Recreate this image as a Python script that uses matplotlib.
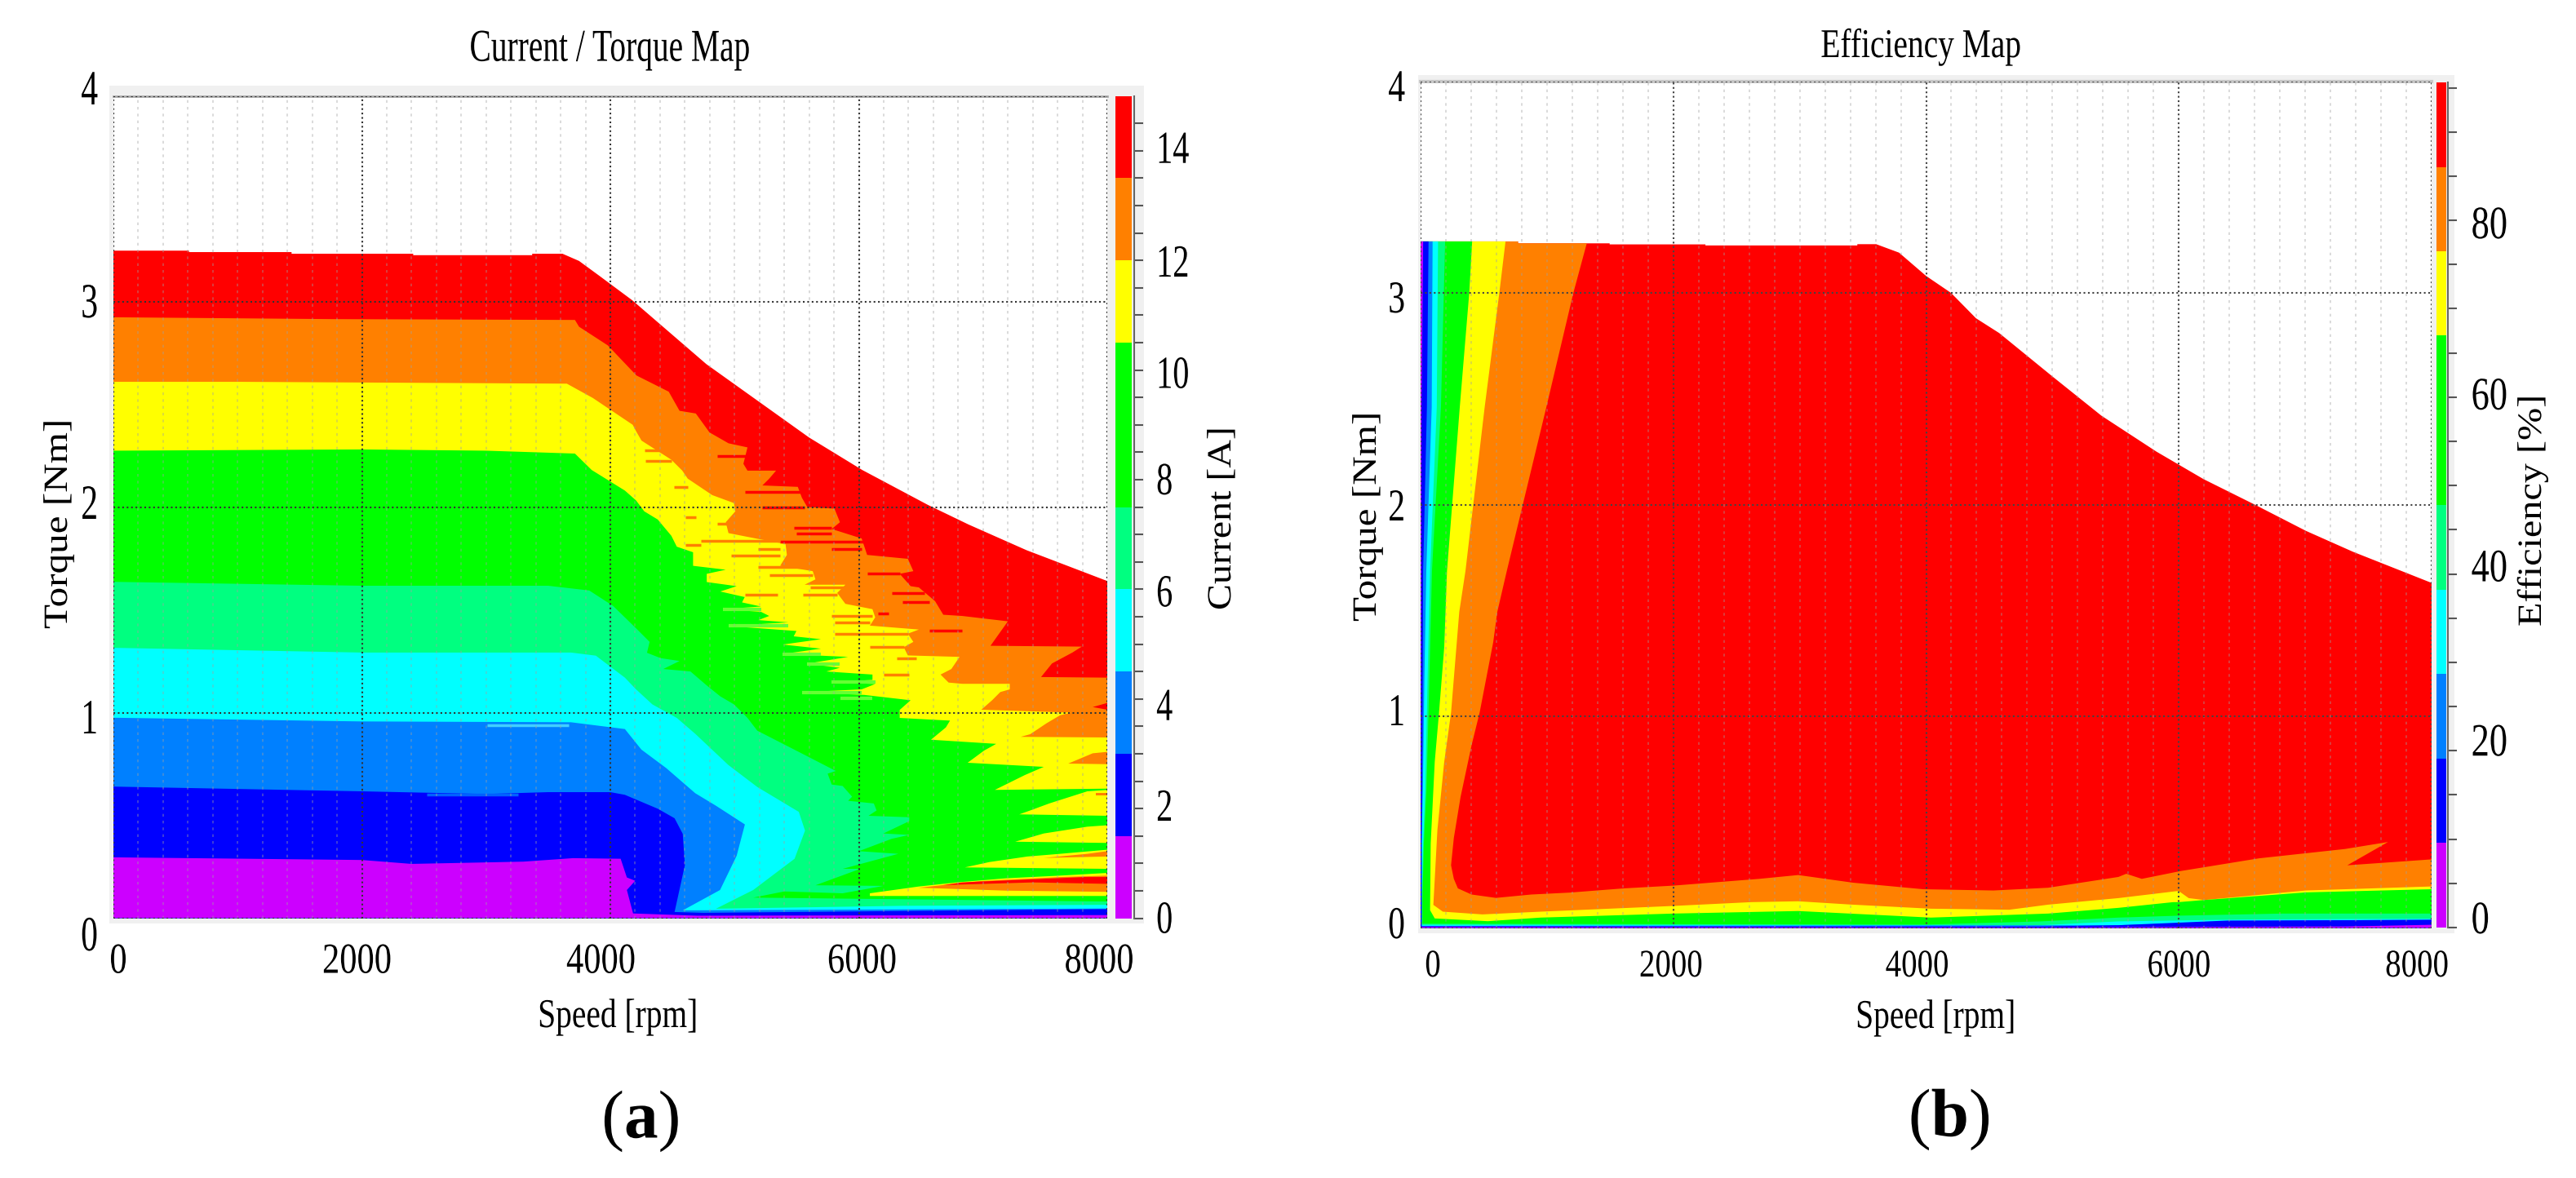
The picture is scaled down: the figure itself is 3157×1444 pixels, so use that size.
import numpy as np
import matplotlib
matplotlib.use('Agg')
import matplotlib.pyplot as plt
from matplotlib.colors import ListedColormap, BoundaryNorm
from matplotlib.patheffects import AbstractPathEffect
from matplotlib.transforms import Affine2D, ScaledTranslation

plt.rcParams['font.family'] = 'Liberation Serif'
plt.rcParams['mathtext.fontset'] = 'custom'
plt.rcParams['mathtext.rm'] = 'Liberation Serif'
plt.rcParams['mathtext.bf'] = 'Liberation Serif:bold'

W, H = 3157, 1444

PURPLE, BLUE, MIDBLUE, CYAN, SPRING = '#cc00ff', '#0000ff', '#0080ff', '#00ffff', '#00ff80'
GREEN, YELLOW, ORANGE, RED = '#00ff00', '#ffff00', '#ff8000', '#ff0000'
band_colors = [PURPLE, BLUE, MIDBLUE, CYAN, SPRING, GREEN, YELLOW, ORANGE, RED]

speed_ticks = [0, 2000, 4000, 6000, 8000]
torque_ticks = [0, 1, 2, 3, 4]
current_ticks = [0, 2, 4, 6, 8, 10, 12, 14]
eff_ticks = [0, 20, 40, 60, 80]
current_bounds = [0, 1.5, 3, 4.5, 6, 7.5, 10.5, 12, 13.5, 15]
eff_bounds = [0, 9.56, 19.1, 28.7, 38.2, 47.8, 67, 76.5, 86, 95.6]

# current map, outline of each "current below level" region
red_s = [0, 608, 608, 1434, 1434, 2413, 2413, 3371, 3371, 3615, 3748, 3913, 4178, 4773, 5600, 6028, 6557, 6883, 7350, 8000, 8000, 0]
red_t = [3.247, 3.247, 3.24, 3.24, 3.232, 3.232, 3.225, 3.225, 3.232, 3.232, 3.197, 3.124, 3.005, 2.695, 2.338, 2.18, 2.01, 1.915, 1.79, 1.64, 0, 0]

orange_s = [0, 1765, 3715, 3748, 3980, 4210, 4470, 4557, 4688, 4798, 4951, 5104, 5071, 5104, 5334, 5279, 5224, 5509, 5542, 5585, 5804, 5848, 5782, 6023, 6067, 6395, 6439, 6329, 6417, 6483, 6614, 6680, 6833, 7200, 7060, 7795, 7719, 7555, 7467, 8000, 8000, 0]
orange_t = [2.923, 2.914, 2.91, 2.877, 2.786, 2.64, 2.561, 2.468, 2.455, 2.363, 2.31, 2.29, 2.21, 2.177, 2.177, 2.138, 2.105, 2.098, 2.045, 2.0, 1.992, 1.926, 1.893, 1.847, 1.767, 1.748, 1.688, 1.675, 1.615, 1.609, 1.542, 1.476, 1.47, 1.444, 1.325, 1.321, 1.292, 1.239, 1.173, 1.17, 0, 0]

yellow_s = [0, 1000, 3650, 3860, 4180, 4207, 4251, 4491, 4579, 4623, 4820, 4995, 5006, 4929, 4951, 5170, 5410, 5421, 5367, 5629, 5651, 5564, 5892, 5826, 5892, 6110, 6132, 6089, 6483, 6395, 6439, 6362, 6395, 6811, 6745, 6658, 6723, 6833, 7215, 7215, 7139, 7073, 6986, 7708, 7620, 7511, 7380, 7303, 8000, 8000, 0]
yellow_t = [2.609, 2.609, 2.6, 2.53, 2.40, 2.369, 2.323, 2.23, 2.177, 2.138, 2.058, 2.019, 1.979, 1.926, 1.873, 1.847, 1.82, 1.767, 1.714, 1.688, 1.648, 1.622, 1.622, 1.582, 1.529, 1.503, 1.463, 1.423, 1.404, 1.384, 1.344, 1.318, 1.278, 1.271, 1.212, 1.185, 1.146, 1.14, 1.14, 1.113, 1.10, 1.06, 1.014, 1.0, 0.987, 0.948, 0.895, 0.882, 0.879, 0, 0]

green_s = [0, 2000, 3000, 3715, 3850, 4117, 4207, 4273, 4382, 4491, 4535, 4666, 4666, 4929, 4776, 4776, 5017, 4885, 5082, 5060, 5213, 4907, 5213, 5279, 5191, 5432, 4951, 5498, 5476, 5695, 5389, 5695, 5389, 5914, 5585, 5848, 5739, 6110, 6110, 5782, 6132, 6023, 5542, 6045, 6417, 6329, 6329, 6734, 6701, 6581, 7106, 7008, 6876, 7489, 7336, 7095, 8000, 8000, 0]
green_t = [2.274, 2.28, 2.274, 2.26, 2.18, 2.08, 2.032, 1.979, 1.939, 1.86, 1.807, 1.78, 1.714, 1.695, 1.675, 1.635, 1.615, 1.589, 1.562, 1.536, 1.516, 1.503, 1.49, 1.47, 1.45, 1.439, 1.421, 1.397, 1.371, 1.357, 1.331, 1.311, 1.285, 1.271, 1.238, 1.218, 1.2, 1.185, 1.159, 1.148, 1.139, 1.113, 1.099, 1.086, 1.06, 1.013, 0.974, 0.961, 0.928, 0.868, 0.848, 0.815, 0.756, 0.736, 0.696, 0.624, 0.63, 0, 0]

spring_s = [0, 2000, 3500, 3830, 4022, 4207, 4316, 4295, 4404, 4557, 4426, 4645, 4776, 4885, 4995, 5104, 5183, 5600, 5815, 5749, 5782, 5870, 5946, 5914, 6121, 6143, 6078, 6406, 6406, 6198, 6406, 6264, 6001, 6318, 5870, 6012, 5651, 6198, 5870, 5400, 5150, 8000, 8000, 0]
spring_t = [1.636, 1.617, 1.617, 1.594, 1.519, 1.41, 1.344, 1.291, 1.265, 1.251, 1.212, 1.2, 1.132, 1.079, 1.04, 0.974, 0.912, 0.783, 0.716, 0.703, 0.65, 0.643, 0.591, 0.571, 0.558, 0.524, 0.498, 0.491, 0.472, 0.412, 0.405, 0.386, 0.326, 0.313, 0.24, 0.24, 0.16, 0.157, 0.121, 0.13, 0.10, 0.081, 0, 0]

cyan_s = [0, 2000, 3683, 3883, 4117, 4207, 4338, 4535, 4683, 4950, 5183, 5517, 5567, 5483, 5150, 4850, 6350, 8000, 8000, 0]
cyan_t = [1.315, 1.292, 1.292, 1.277, 1.17, 1.113, 1.04, 0.974, 0.897, 0.745, 0.638, 0.517, 0.426, 0.289, 0.137, 0.046, 0.06, 0.065, 0, 0]

midblue_s = [0, 2000, 3683, 4117, 4250, 4450, 4683, 4850, 5083, 5017, 4883, 4583, 8000, 8000, 0]
midblue_t = [0.975, 0.957, 0.953, 0.92, 0.82, 0.73, 0.608, 0.547, 0.456, 0.304, 0.137, 0.038, 0.047, 0, 0]

blue_s = [0, 2000, 3000, 3500, 4000, 4117, 4383, 4517, 4583, 4600, 4517, 4750, 8000, 8000, 0]
blue_t = [0.64, 0.617, 0.604, 0.613, 0.613, 0.6, 0.532, 0.486, 0.41, 0.258, 0.03, 0.026, 0.044, 0, 0]

purple_s = [0, 2000, 2400, 3300, 3700, 4083, 4133, 4200, 4133, 4183, 4700, 8000, 8000, 0]
purple_t = [0.296, 0.283, 0.264, 0.275, 0.292, 0.289, 0.198, 0.182, 0.137, 0.023, 0.012, 0.015, 0, 0]

# wedges at the right edge of the current map
orange_tip_s = [7686, 7883, 8000, 8000]
orange_tip_t = [0.752, 0.802, 0.809, 0.749]
red_tip_s = [7883, 8000, 8000]
red_tip_t = [1.027, 1.047, 1.014]
wedge2_s = [7292, 7380, 7533, 7839, 8000, 8000]
wedge2_t = [0.505, 0.524, 0.558, 0.617, 0.624, 0.498]
wedge2_orange_s = [7905, 8000, 8000, 7905]
wedge2_orange_t = [0.61, 0.61, 0.597, 0.597]
wedge3_s = [7259, 7489, 7839, 8000, 8000]
wedge3_t = [0.372, 0.412, 0.445, 0.452, 0.366]
wedge4_s = [6854, 7051, 7358, 7620, 8000, 8000]
wedge4_t = [0.247, 0.273, 0.30, 0.313, 0.333, 0.24]
wedge4_orange_s = [7489, 7839, 8000, 8000]
wedge4_orange_t = [0.293, 0.313, 0.326, 0.30]
wedge5_s = [6089, 6482, 6789, 7183, 7620, 8000, 8000, 6089]
wedge5_t = [0.121, 0.154, 0.174, 0.194, 0.207, 0.22, 0.108, 0.108]
wedge5_orange_s = [6482, 6964, 7620, 8000, 8000, 7183]
wedge5_orange_t = [0.148, 0.18, 0.20, 0.207, 0.128, 0.134]
wedge5_red_s = [6679, 6832, 7817, 8000, 8000, 7401]
wedge5_red_t = [0.161, 0.174, 0.20, 0.20, 0.167, 0.174]

# streaks along the jagged edges
red_streak_start = [4863, 5082, 5476, 5498, 5367, 5782, 6067, 6264, 6351, 6570, 6154, 5224]
red_streak_end = [5104, 5542, 5782, 5782, 6067, 6023, 6329, 6526, 6570, 6833, 6242, 5560]
red_streak_t = [2.25, 2.072, 1.9, 1.87, 1.83, 1.794, 1.677, 1.582, 1.536, 1.397, 1.483, 2.0]
orange_streak_start = [4273, 4280, 4513, 4601, 4863, 4732, 4601, 5191, 4973, 5191, 5279, 5082, 5553, 5607, 5782, 5804, 5804, 6089, 6308, 6198]
orange_streak_end = [4491, 4491, 4623, 4688, 5191, 5367, 4732, 5367, 5367, 5607, 5629, 5345, 5826, 5892, 6110, 6089, 6395, 6362, 6461, 6406]
orange_streak_t = [2.277, 2.225, 2.098, 1.95, 1.92, 1.836, 1.814, 1.794, 1.765, 1.708, 1.668, 1.572, 1.572, 1.61, 1.47, 1.437, 1.384, 1.318, 1.262, 1.185]
green_streak_start = [4951, 5389, 5585, 5542, 5782, 5850, 4907]
green_streak_end = [5432, 5695, 5848, 6023, 6132, 6110, 5213]
green_streak_t = [1.421, 1.285, 1.238, 1.099, 1.148, 1.07, 1.503]
cyan_streak_start = [3007]
cyan_streak_end = [3662]
cyan_streak_t = [0.94]
midblue_streak_start = [2520]
midblue_streak_end = [3260]
midblue_streak_t = [0.6]

# efficiency map
eff_red_s = [0, 771, 771, 1496, 1496, 2254, 2254, 3456, 3456, 3605, 3786, 4000, 4197, 4395, 4579, 4998, 5387, 5823, 6196, 6600, 7005, 7378, 8000, 8000, 0]
eff_red_t = [3.243, 3.243, 3.234, 3.234, 3.229, 3.229, 3.224, 3.224, 3.23, 3.23, 3.19, 3.08, 3.0, 2.88, 2.81, 2.606, 2.42, 2.25, 2.12, 2.0, 1.876, 1.777, 1.63, 0, 0]

eff_orange_s = [0, 771, 771, 1315, 1209, 995, 682, 607, 575, 467, 403, 316, 263, 241, 263, 295, 403, 596, 876, 1178, 1608, 2000, 2680, 2988, 3420, 3977, 4533, 4966, 5522, 5584, 5707, 6016, 6635, 7315, 7655, 7333, 8000, 8000, 0]
eff_orange_t = [3.243, 3.243, 3.234, 3.234, 3.0, 2.46, 1.686, 1.493, 1.351, 1.017, 0.862, 0.618, 0.425, 0.296, 0.232, 0.187, 0.158, 0.142, 0.158, 0.167, 0.187, 0.2, 0.232, 0.25, 0.214, 0.183, 0.177, 0.19, 0.241, 0.256, 0.232, 0.269, 0.329, 0.373, 0.406, 0.296, 0.324, 0, 0]

eff_yellow_s = [0, 672, 623, 507, 355, 306, 241, 187, 133, 101, 176, 489, 950, 2000, 2617, 2988, 3420, 4038, 4657, 4966, 5522, 5998, 6078, 6201, 7005, 8000, 8000, 0]
eff_yellow_t = [3.243, 3.243, 3.0, 2.46, 1.686, 1.493, 1.017, 0.785, 0.463, 0.109, 0.077, 0.064, 0.077, 0.104, 0.122, 0.126, 0.11, 0.091, 0.086, 0.11, 0.141, 0.175, 0.141, 0.132, 0.177, 0.196, 0, 0]

eff_green_s = [0, 408, 385, 310, 209, 187, 144, 112, 80, 75, 112, 532, 950, 2000, 2988, 4038, 4966, 5522, 5955, 5998, 6201, 7005, 8000, 8000, 0]
eff_green_t = [3.243, 3.243, 3.0, 2.46, 1.686, 1.326, 1.004, 0.785, 0.399, 0.084, 0.045, 0.032, 0.049, 0.068, 0.08, 0.049, 0.068, 0.095, 0.122, 0.122, 0.132, 0.168, 0.183, 0, 0]

eff_spring_s = [0, 194, 161, 90, 69, 47, 26, 15, 15, 4000, 4904, 5522, 5998, 6819, 8000, 8000, 0]
eff_spring_t = [3.243, 3.243, 2.46, 1.686, 1.17, 0.656, 0.4, 0.14, 0.02, 0.016, 0.031, 0.049, 0.058, 0.068, 0.068, 0, 0]

eff_cyan_s = [0, 138, 128, 75, 55, 37, 20, 8, 8, 4904, 5522, 6510, 8000, 8000, 0]
eff_cyan_t = [3.243, 3.243, 2.46, 1.686, 1.17, 0.656, 0.4, 0.1, 0.015, 0.013, 0.031, 0.04, 0.044, 0, 0]

eff_midblue_s = [0, 95, 88, 45, 30, 18, 8, 8, 5522, 6510, 8000, 8000, 0]
eff_midblue_t = [3.243, 3.243, 2.46, 1.686, 1.17, 0.656, 0.4, 0.01, 0.013, 0.031, 0.04, 0, 0]

eff_blue_s = [0, 63, 50, 20, 15, 8, 8, 4904, 5522, 6387, 8000, 8000, 0]
eff_blue_t = [3.243, 3.243, 2.46, 1.686, 0.9, 0.4, 0.008, 0.007, 0.013, 0.035, 0.038, 0, 0]

eff_purple_s = [0, 20, 8, 3, 0, 4904, 7315, 8000, 8000, 0]
eff_purple_t = [3.243, 3.243, 2.46, 1.0, 0.005, 0.003, 0.007, 0.015, 0, 0]


class Stretch(AbstractPathEffect):
    # the source picture is resampled unevenly, so glyphs are taller than wide
    def __init__(self, sx=1.0, sy=1.0):
        super().__init__()
        self.sx = sx
        self.sy = sy

    def draw_path(self, renderer, gc, tpath, affine, rgbFace=None):
        renderer.draw_path(gc, tpath, Affine2D().scale(self.sx, self.sy) + affine, rgbFace)


def box(left, top, right, bottom, **kw):
    return fig.add_axes([left / W, 1 - bottom / H, (right - left) / W, (bottom - top) / H], **kw)


def text_at(x, y, s, size, sx=1.0, sy=1.0, **kw):
    t = fig.text(x / W, 1 - y / H, s, fontsize=size, va='baseline', **kw)
    t.set_path_effects([Stretch(sx, sy)])
    return t


def style_labels(labels, size, sy, dx, dy):
    for lab, a, b in zip(labels, dx, dy):
        lab.set_fontsize(size)
        lab.set_va('baseline')
        lab.set_path_effects([Stretch(1.0, sy)])
        lab.set_transform(lab.get_transform() + ScaledTranslation(a / 100, -b / 100, fig.dpi_scale_trans))


def setup_map(ax, major_color):
    ax.set_xlim(0, 8000)
    ax.set_ylim(0, 4)
    ax.set_xticks(speed_ticks)
    ax.set_yticks(torque_ticks)
    ax.set_xticks(np.arange(0, 8001, 200), minor=True)
    ax.tick_params(which='both', length=0)
    ax.set_axisbelow(False)
    ax.grid(True, which='minor', axis='x', color='#a0a0a0', alpha=0.45, lw=1.2, ls=(0, (2, 3)))
    ax.grid(True, which='major', color=major_color, lw=1.5, ls=(0, (1, 1.6)))
    for s in ax.spines.values():
        s.set_visible(False)


def setup_bar(ax, bounds, ticks, minor_step):
    mids = (np.array(bounds[:-1]) + np.array(bounds[1:])) / 2
    ax.pcolormesh([0, 0.87], bounds, mids.reshape(-1, 1), cmap=ListedColormap(band_colors),
                  norm=BoundaryNorm(bounds, len(band_colors)))
    ax.set_xlim(0, 1)
    ax.set_ylim(bounds[0], bounds[-1])
    ax.set_xticks([])
    ax.patch.set_alpha(0)
    ax.yaxis.tick_right()
    ax.set_yticks(ticks)
    ax.set_yticks(np.arange(0, bounds[-1], minor_step), minor=True)
    ax.tick_params(which='both', length=8, width=1.5, color='#555555')
    for name in ['top', 'bottom', 'left']:
        ax.spines[name].set_visible(False)
    ax.spines['right'].set_color('#666666')
    ax.spines['right'].set_linewidth(1.5)


fig = plt.figure(figsize=(W / 100, H / 100), dpi=100, facecolor='white')

# ---------- (a) current map
bg1 = box(134, 105, 1402, 1132, facecolor='#f0f0f0', xticks=[], yticks=[])
bg1.spines[:].set_visible(False)
ax1 = box(139, 117.5, 1357, 1125.5, facecolor='white')

ax1.fill(red_s, red_t, color=RED, lw=0)
ax1.fill(orange_s, orange_t, color=ORANGE, lw=0)
ax1.hlines(red_streak_t, red_streak_start, red_streak_end, color=RED, lw=2.5)
ax1.fill(yellow_s, yellow_t, color=YELLOW, lw=0)
ax1.hlines(orange_streak_t, orange_streak_start, orange_streak_end, color=ORANGE, lw=2.5)
ax1.fill(green_s, green_t, color=GREEN, lw=0)
ax1.hlines(green_streak_t, green_streak_start, green_streak_end, color='#66ff33', lw=3)
ax1.fill(orange_tip_s, orange_tip_t, color=ORANGE, lw=0)
ax1.fill(red_tip_s, red_tip_t, color=RED, lw=0)
ax1.fill(wedge2_s, wedge2_t, color=YELLOW, lw=0)
ax1.fill(wedge2_orange_s, wedge2_orange_t, color=ORANGE, lw=0)
ax1.fill(wedge3_s, wedge3_t, color=YELLOW, lw=0)
ax1.fill(wedge4_s, wedge4_t, color=YELLOW, lw=0)
ax1.fill(wedge4_orange_s, wedge4_orange_t, color=ORANGE, lw=0)
ax1.fill(wedge5_s, wedge5_t, color=YELLOW, lw=0)
ax1.fill(wedge5_orange_s, wedge5_orange_t, color=ORANGE, lw=0)
ax1.fill(wedge5_red_s, wedge5_red_t, color=RED, lw=0)
ax1.fill(spring_s, spring_t, color=SPRING, lw=0)
ax1.fill(cyan_s, cyan_t, color=CYAN, lw=0)
ax1.hlines(cyan_streak_t, cyan_streak_start, cyan_streak_end, color='#40d0ff', lw=2.5)
ax1.fill(midblue_s, midblue_t, color=MIDBLUE, lw=0)
ax1.hlines(midblue_streak_t, midblue_streak_start, midblue_streak_end, color='#0060ff', lw=2.5)
ax1.fill(blue_s, blue_t, color=BLUE, lw=0)
ax1.fill(purple_s, purple_t, color=PURPLE, lw=0)

setup_map(ax1, '#333333')
ax1.spines['top'].set_visible(True)
ax1.spines['top'].set_color('#aaaaaa')
ax1.spines['top'].set_linewidth(2)
ax1.tick_params(axis='x', which='major', pad=(1192.5 - 1125.5) * 0.72)
ax1.tick_params(axis='y', which='major', pad=19 * 0.72)
style_labels(ax1.get_xticklabels(), 30.6, 1.24, [6, -6, -11.5, 4, -10], [0] * 5)
style_labels(ax1.get_yticklabels(), 30, 1.45, [0] * 5, [39.5, 25.5, 14.5, 19.5, 10.5])

cb1 = box(1367, 117.5, 1390, 1125.5)
setup_bar(cb1, current_bounds, current_ticks, 0.5)
cb1.tick_params(axis='y', which='major', pad=16 * 0.72)
style_labels(cb1.get_yticklabels(), 29, 1.4, [0] * 8, [18, 15, 26, 21, 18, 22, 20, 15])

text_at(747, 74.6, 'Current / Torque Map', 28.4, sy=1.42, ha='center')
text_at(757, 1259, 'Speed [rpm]', 28.4, sy=1.27, ha='center')
text_at(82, 771, 'Torque [Nm]', 30, sx=1.18, rotation=90, ha='left', rotation_mode='anchor')
text_at(1508, 748, 'Current [A]', 30, sx=1.15, rotation=90, ha='left', rotation_mode='anchor')
text_at(785, 1395, r'($\mathbf{a}$)', 60, ha='center')

# ---------- (b) efficiency map
bg2 = box(1738, 92, 3008, 1144, facecolor='#f0f0f0', xticks=[], yticks=[])
bg2.spines[:].set_visible(False)
ax2 = box(1741, 99.5, 2980, 1137.5, facecolor='white')

ax2.fill(eff_red_s, eff_red_t, color=RED, lw=0)
ax2.fill(eff_orange_s, eff_orange_t, color=ORANGE, lw=0)
ax2.fill(eff_yellow_s, eff_yellow_t, color=YELLOW, lw=0)
ax2.fill(eff_green_s, eff_green_t, color=GREEN, lw=0)
ax2.fill(eff_spring_s, eff_spring_t, color=SPRING, lw=0)
ax2.fill(eff_cyan_s, eff_cyan_t, color=CYAN, lw=0)
ax2.fill(eff_midblue_s, eff_midblue_t, color=MIDBLUE, lw=0)
ax2.fill(eff_blue_s, eff_blue_t, color=BLUE, lw=0)
ax2.fill(eff_purple_s, eff_purple_t, color=PURPLE, lw=0)

setup_map(ax2, '#444444')
ax2.spines['top'].set_visible(True)
ax2.spines['top'].set_color('#c8c8c8')
ax2.spines['top'].set_linewidth(3)
ax2.tick_params(axis='x', which='major', pad=(1197 - 1137.5) * 0.72)
ax2.tick_params(axis='y', which='major', pad=19 * 0.72)
style_labels(ax2.get_xticklabels(), 28, 1.23, [15, -3, -11, 0, -18], [0] * 5)
style_labels(ax2.get_yticklabels(), 30, 1.34, [0] * 5, [12.5, 11, 19.5, 24, 24.5])

cb2 = box(2985.5, 101, 2999.5, 1137)
setup_bar(cb2, eff_bounds, eff_ticks, 5)
cb2.tick_params(axis='y', which='major', pad=18 * 0.72)
style_labels(cb2.get_yticklabels(), 32, 1.28, [0] * 5, [7, 6, 9, 15, 22])

text_at(2354, 70, 'Efficiency Map', 28.4, sy=1.27, ha='center')
text_at(2372, 1260, 'Speed [rpm]', 28.4, sy=1.27, ha='center')
text_at(1686, 762, 'Torque [Nm]', 30, sx=1.18, rotation=90, ha='left', rotation_mode='anchor')
text_at(3114, 768, 'Efficiency [%]', 30, sx=1.157, rotation=90, ha='left', rotation_mode='anchor')
text_at(2389, 1393, r'($\mathbf{b}$)', 60, ha='center')

fig.savefig('out.png', dpi=100)
